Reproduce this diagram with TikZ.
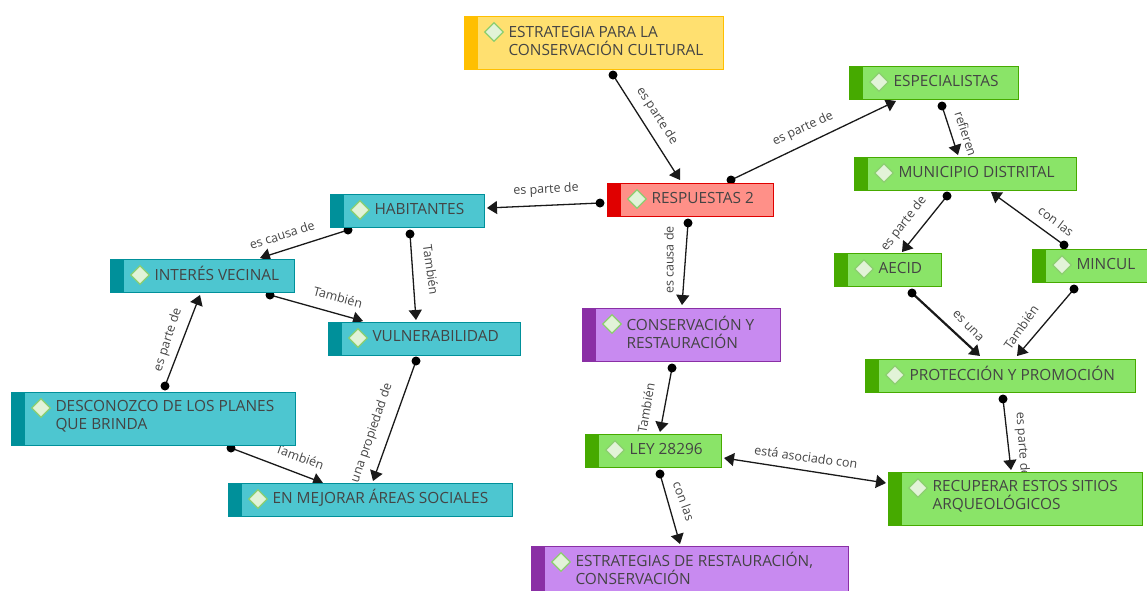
\documentclass[tikz,border=0pt]{standalone}
\usepackage{fontspec}
\setmainfont{Open Sans}
\usetikzlibrary{arrows.meta,shapes.geometric,backgrounds}
\definecolor{yellowfill}{HTML}{FFE070}\definecolor{yellowbar}{HTML}{FFBF00}
\definecolor{redfill}{HTML}{FF9088}\definecolor{redbar}{HTML}{E00000}
\definecolor{greenfill}{HTML}{8AE468}\definecolor{greenbar}{HTML}{46AA00}
\definecolor{tealfill}{HTML}{4DC6D0}\definecolor{tealbar}{HTML}{00909A}
\definecolor{purplefill}{HTML}{C88AF0}\definecolor{purplebar}{HTML}{8A2FA5}
\definecolor{ink}{HTML}{444444}
\definecolor{dfill}{HTML}{E2F3D8}\definecolor{dline}{HTML}{8CCF70}
\tikzset{
  x=1pt,y=-1pt,
  boxnode/.style={draw=#1,line width=1pt,rectangle,inner sep=0pt,anchor=north west,text=ink,font=\fontsize{15.4}{18}\selectfont},
  icon/.style={diamond,draw=dline,fill=dfill,line width=1.3pt,minimum width=19pt,minimum height=19pt,inner sep=0pt},
  linkline/.style={draw=black!90,line width=1.3pt,-{Triangle[length=10pt,width=13pt]}},
  linktext/.style={font=\fontsize{12.5}{14}\selectfont,text=ink,inner sep=0pt},
}
% name, x1, y1, x2, y2, fill, bar, icon-y offset, text
\newcommand{\cmapbox}[9]{%
  \pgfmathsetmacro{\bw}{#4-#2}\pgfmathsetmacro{\bh}{#5-#3}%
  \node[boxnode=#7,fill=#6,minimum width=\bw pt,minimum height=\bh pt] (#1) at (#2,#3)
    {\makebox[\bw pt][l]{\hspace{44pt}\raisebox{2.5pt}[\height][\depth]{\parbox[c]{\dimexpr\bw pt-48pt\relax}{\raggedright\lineskiplimit=-6pt\baselineskip=18pt #9\par}}}};
  \fill[#7] (#1.north west) rectangle ([xshift=14pt]#1.south west);
  \node[icon] (#1-icon) at ([shift={(30,#8)}]#1.north west) {};
}
% [options], from, dx dy, to, dx dy
\newcommand{\cmaplink}[5][]{%
  \draw[linkline,#1] ([shift={(#3)}]#2.north west) -- ([shift={(#5)}]#4.north west);
  \fill[black] ([shift={(#3)}]#2.north west) circle (4.5);
}
\begin{document}
\begin{tikzpicture}
\useasboundingbox (0,0) rectangle (1147,590);
\clip (0,0) rectangle (1147,590);
\cmapbox{estr}{464}{16}{723}{69}{yellowfill}{yellowbar}{16}{ESTRATEGIA PARA LA\\CONSERVACIÓN CULTURAL}
\cmapbox{resp}{607}{183}{773}{216}{redfill}{redbar}{16}{RESPUESTAS 2}
\cmapbox{espe}{849}{66}{1018}{99}{greenfill}{greenbar}{16}{ESPECIALISTAS}
\cmapbox{muni}{854}{157}{1076}{190}{greenfill}{greenbar}{16}{MUNICIPIO DISTRITAL}
\cmapbox{aeci}{834}{253}{941}{286}{greenfill}{greenbar}{16}{AECID}
\cmapbox{minc}{1032}{249}{1150}{282}{greenfill}{greenbar}{16}{MINCUL}
\cmapbox{prot}{865}{359}{1135}{392}{greenfill}{greenbar}{16}{PROTECCIÓN Y PROMOCIÓN}
\cmapbox{recu}{888}{472}{1142}{525}{greenfill}{greenbar}{16}{RECUPERAR ESTOS SITIOS\\ARQUEOLÓGICOS}
\cmapbox{ley}{585}{434}{721}{467}{greenfill}{greenbar}{16}{LEY 28296}
\cmapbox{cons}{582}{308}{780}{361}{purplefill}{purplebar}{16}{CONSERVACIÓN Y\\RESTAURACIÓN}
\cmapbox{estg}{531}{546}{848}{595}{purplefill}{purplebar}{16}{ESTRATEGIAS DE RESTAURACIÓN,\\CONSERVACIÓN}
\cmapbox{habi}{330}{194}{484}{227}{tealfill}{tealbar}{16}{HABITANTES}
\cmapbox{inte}{110}{259}{294}{292}{tealfill}{tealbar}{16}{INTERÉS VECINAL}
\cmapbox{vuln}{328}{322}{520}{355}{tealfill}{tealbar}{16}{VULNERABILIDAD}
\cmapbox{desc}{11}{392}{295}{445}{tealfill}{tealbar}{16}{DESCONOZCO DE LOS PLANES\\QUE BRINDA}
\cmapbox{mejo}{228}{483}{512}{516}{tealfill}{tealbar}{16}{EN MEJORAR ÁREAS SOCIALES}
\begin{scope}[on background layer]
\cmaplink{estr}{149,59}{resp}{73,-3}
\cmaplink{resp}{-7,20}{habi}{157,14}
\cmaplink{resp}{124,-3}{espe}{47,35}
\cmaplink{espe}{93,40}{muni}{104,-2}
\cmaplink{muni}{93,39}{aeci}{68,-1}
\cmaplink{minc}{32,-4}{muni}{137,35}
\cmaplink[line width=2.2pt]{aeci}{78,40}{prot}{115,-3}
\cmaplink{minc}{42,40}{prot}{152,-3}
\cmaplink{prot}{138,40}{recu}{123,-2}
\cmaplink{resp}{81,40}{cons}{100,-3}
\cmaplink{cons}{90,60}{ley}{75,-2}
\draw[linkline,{Triangle[length=10pt,width=13pt]}-{Triangle[length=10pt,width=13pt]}] ([shift={(139,24)}]ley.north west) -- ([shift={(-2,11)}]recu.north west);
\cmaplink{ley}{75,40}{estg}{149,-2}
\cmaplink{habi}{18,36}{inte}{150,-1}
\cmaplink{habi}{80,40}{vuln}{88,-2}
\cmaplink{inte}{160,36}{vuln}{35,-1}
\cmaplink{desc}{154,-6}{inte}{90,36}
\cmaplink{desc}{220,56}{mejo}{95,0}
\cmaplink{vuln}{88,39}{mejo}{145,-2}
\node[linktext,rotate=-57] (l1) at (657,116) {es parte de};
\node[linktext,rotate=3] (l2) at (546,190) {es parte de};
\node[linktext,rotate=25] (l3) at (803,129) {es parte de};
\node[linktext,rotate=-72] (l4) at (966,134) {refieren};
\node[linktext,rotate=52] (l5) at (904,224) {es parte de};
\node[linktext,rotate=-37] (l6) at (1056,221) {con las};
\node[linktext,rotate=-45] (l7) at (968,326) {es una};
\node[linktext,rotate=55] (l8) at (1021,327) {También};
\node[linktext,rotate=-86] (l9) at (1022,445) {es parte de};
\node[linktext,rotate=90] (l10) at (669,260) {es causa de};
\node[linktext,rotate=80] (l11) at (646,408) {También};
\node[linktext,rotate=-8] (l12) at (806,457) {está asociado con};
\node[linktext,rotate=-70] (l13) at (684,501) {con las};
\node[linktext,rotate=18] (l14) at (282,235) {es causa de};
\node[linktext,rotate=-82] (l15) at (431,270) {También};
\node[linktext,rotate=-15] (l16) at (338,297) {También};
\node[linktext,rotate=72] (l17) at (168,340) {es parte de};
\node[linktext,rotate=-20] (l18) at (300,457) {También};
\node[linktext,rotate=71] (l19) at (372,433) {una propiedad de};
\end{scope}
\end{tikzpicture}
\end{document}
